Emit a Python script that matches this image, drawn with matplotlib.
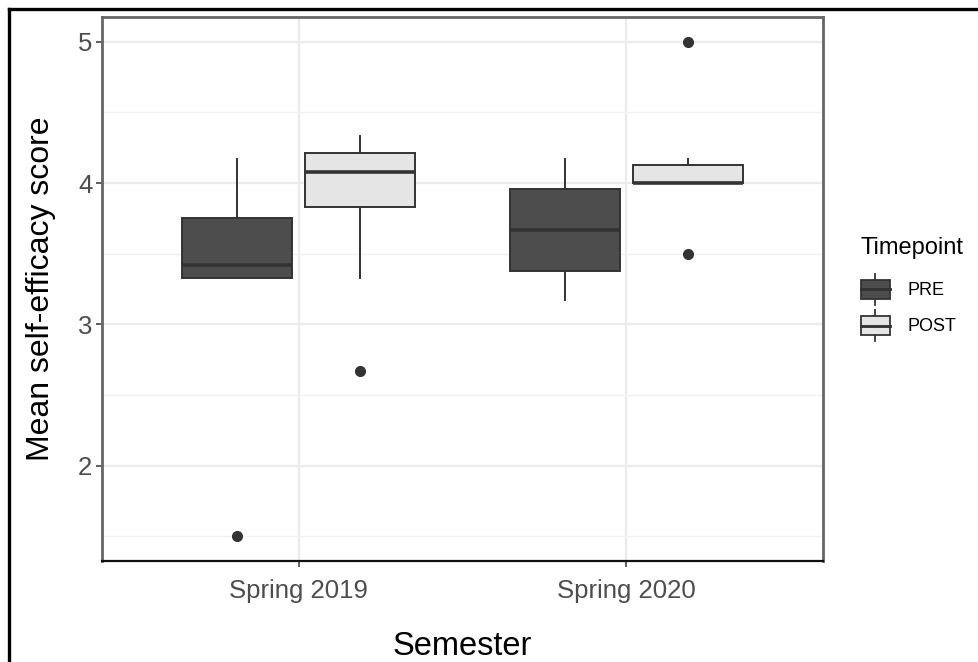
import matplotlib as mpl

mpl.use('Agg')

import matplotlib.pyplot as plt
from matplotlib.legend_handler import HandlerBase
from matplotlib.patches import Patch, Rectangle
from matplotlib.lines import Line2D

plt.rcParams['font.family'] = ['Liberation Sans', 'DejaVu Sans']

semesters = ['Spring 2019', 'Spring 2020']
timepoints = ['PRE', 'POST']

pre_whislo = [3.33, 3.17]
pre_q1 = [3.33, 3.375]
pre_med = [3.42, 3.67]
pre_q3 = [3.75, 3.96]
pre_whishi = [4.17, 4.17]
pre_fliers = [[1.5], []]

post_whislo = [3.33, 4.0]
post_q1 = [3.83, 4.0]
post_med = [4.08, 4.0]
post_q3 = [4.21, 4.125]
post_whishi = [4.33, 4.17]
post_fliers = [[2.67], [5.0, 3.5]]

fills = {'PRE': '#4D4D4D', 'POST': '#E5E5E5'}
edge = '#333333'
grid_col = '#EBEBEB'

W, H = 979, 662


def make_stats(lo, q1, med, q3, hi, fl):
    return [dict(whislo=a, q1=b, med=c, q3=d, whishi=e, fliers=f)
            for a, b, c, d, e, f in zip(lo, q1, med, q3, hi, fl)]


class BoxHandler(HandlerBase):
    # mini boxplot key like ggplot's draw_key_boxplot
    def create_artists(self, legend, orig_handle, xdescent, ydescent,
                       width, height, fontsize, trans):
        fc = orig_handle.get_facecolor()
        bh = height * 0.62
        y0 = -ydescent + (height - bh) / 2
        x0 = -xdescent
        cx = x0 + width / 2
        lw = 1.3
        wl = Line2D([cx, cx], [-ydescent, -ydescent + height], color=edge, lw=lw, transform=trans)
        box = Rectangle((x0, y0), width, bh, facecolor=fc, edgecolor=edge, lw=lw, transform=trans)
        med = Line2D([x0, x0 + width], [y0 + bh / 2] * 2, color=edge, lw=lw * 1.6, transform=trans)
        return [wl, box, med]


fig = plt.figure(figsize=(W / 100, H / 100), dpi=100)
ax = fig.add_axes([102 / W, 1 - 561 / H, (823 - 102) / W, (561 - 17) / H])

xs = list(range(1, len(semesters) + 1))
dodge = 0.1875
bw = 0.3375

groups = [
    ('PRE', make_stats(pre_whislo, pre_q1, pre_med, pre_q3, pre_whishi, pre_fliers), -dodge),
    ('POST', make_stats(post_whislo, post_q1, post_med, post_q3, post_whishi, post_fliers), dodge),
]

for name, stats, off in groups:
    ax.bxp(stats, positions=[x + off for x in xs], widths=bw, patch_artist=True,
           showcaps=False, manage_ticks=False,
           boxprops=dict(facecolor=fills[name], edgecolor=edge, linewidth=1.4),
           medianprops=dict(color=edge, linewidth=2.6, solid_capstyle='butt'),
           whiskerprops=dict(color=edge, linewidth=1.4),
           flierprops=dict(marker='o', markerfacecolor=edge, markeredgecolor=edge,
                           markersize=7, linestyle='none'),
           zorder=3)

ax.set_xlim(0.4, 2.6)
ax.set_ylim(1.325, 5.175)
ax.set_xticks(xs)
ax.set_xticklabels(semesters)
ax.set_yticks([2, 3, 4, 5])
ax.set_yticks([1.5, 2.5, 3.5, 4.5], minor=True)

ax.grid(True, which='major', color=grid_col, lw=1.6, zorder=0)
ax.grid(True, which='minor', axis='y', color='#F2F2F2', lw=1.0, zorder=0)
ax.set_axisbelow(True)

ax.tick_params(axis='both', which='major', labelsize=18.5, labelcolor='#4D4D4D',
               color='#333333', length=4, width=1.1, pad=3)
ax.tick_params(axis='x', which='major', pad=9)
ax.tick_params(axis='both', which='minor', length=0)

for s in ['left', 'top', 'right']:
    ax.spines[s].set_color('#666666')
    ax.spines[s].set_linewidth(2.0)
ax.spines['bottom'].set_color('#111111')
ax.spines['bottom'].set_linewidth(1.6)

ax.set_xlabel('Semester', fontsize=23.5, color='black', labelpad=20)
ax.set_ylabel('Mean self-efficacy score', fontsize=23, color='black', labelpad=16)

handles = [Patch(facecolor=fills[t], edgecolor=edge) for t in timepoints]
leg = fig.legend(handles, timepoints, title='Timepoint', loc='upper left',
                 bbox_to_anchor=(861 / W, 1 - 237 / H), frameon=False,
                 fontsize=13, title_fontsize=17, handler_map={Patch: BoxHandler()},
                 handlelength=1.6, handleheight=2.2, labelspacing=0.33,
                 handletextpad=1.0, borderpad=0, borderaxespad=0, alignment='left')
# more room between title and keys
leg._legend_box.sep = 11

# outer frame
fig.add_artist(Line2D([9 / W, 1.0], [1 - 9 / H, 1 - 9 / H], color='black', lw=2.4,
                      transform=fig.transFigure))
fig.add_artist(Line2D([9 / W, 9 / W], [0.0, 1 - 9 / H], color='black', lw=2.4,
                      transform=fig.transFigure))

fig.savefig('out.png', dpi=100)
